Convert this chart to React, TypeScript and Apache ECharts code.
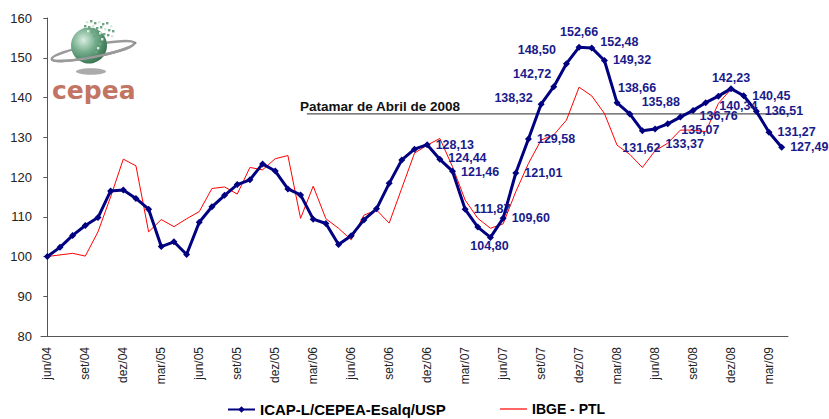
import React, { useEffect, useRef } from "react";
import * as echarts from "echarts";

const FONT = "'Liberation Sans', Arial, sans-serif";

const monthNames = ["jan", "fev", "mar", "abr", "mai", "jun", "jul", "ago", "set", "out", "nov", "dez"];
const categories: string[] = [];
for (let k = 0; k < 59; k++) {
  const m = (5 + k) % 12;
  const y = 4 + Math.floor((5 + k) / 12);
  categories.push(`${monthNames[m]}/${String(y).padStart(2, "0")}`);
}

const icapValues = [
  100.0, 102.3, 105.3, 107.8, 109.8, 116.5, 116.7, 114.6, 111.9, 102.5,
  103.7, 100.5, 108.6, 112.5, 115.4, 118.1, 119.3, 123.3, 121.5, 117.0,
  115.5, 109.4, 108.3, 103.0, 105.2, 109.2, 112.0, 118.4, 124.3, 127.0,
  128.13, 124.44, 121.46, 111.87, 107.4, 104.8, 109.6, 121.01, 129.58, 138.32,
  142.72, 148.5, 152.66, 152.48, 149.32, 138.66, 135.88, 131.62, 132.1, 133.37,
  135.07, 136.76, 138.7, 140.34, 142.23, 140.45, 136.51, 131.27, 127.49,
];

const ibgeValues: (number | null)[] = [
  100.0, 100.4, 100.8, 100.1, 106.2, 115.0, 124.5, 122.8, 106.2, 109.3,
  107.5, 109.5, 111.3, 117.1, 117.5, 115.7, 122.4, 121.8, 124.6, 125.4,
  109.6, 117.7, 109.5, 107.1, 104.2, 110.4, 111.7, 108.4, 117.2, 126.0,
  128.0, 129.7, 122.6, 114.2, 109.6, 107.1, 108.2, 116.3, 123.4, 129.3,
  130.6, 134.3, 142.6, 140.4, 136.0, 128.0, 125.7, 122.4, 126.6, 128.5,
  131.8, 131.8, 131.4, 138.5, 142.1, null, null, null, null,
];

const patamarValue = 135.88;
const patamarSpan = [20.5, 60.5];
const patamarText = "Patamar de Abril de 2008";

const yTicks = { min: 80, max: 160, interval: 10 };

// label placement for the labelled ICAP points: [position, dx, dy]
const labelPlacement: Record<number, [string, number, number]> = {
  30: ["right", 0, 0],
  31: ["right", 0, -1],
  32: ["right", 0, 1],
  33: ["right", 0, 0],
  35: ["bottom", -1, -6],
  36: ["right", 0, 0],
  37: ["right", 0, 0],
  38: ["right", 0, 0],
  39: ["left", 0, -6],
  40: ["left", 6, -13],
  41: ["left", -2, -14],
  42: ["top", 0, 0],
  43: ["right", 0, -6],
  44: ["right", 0, 0],
  45: ["top", 20, 0],
  46: ["top", 31, 3],
  47: ["bottom", -1, 2],
  49: ["bottom", 17, 5],
  50: ["bottom", 20, -2],
  51: ["right", -2, 6],
  53: ["bottom", 20, -5],
  54: ["top", 0, 4],
  55: ["right", 0, 0],
  56: ["right", 0, 0],
  57: ["right", 0, 0],
  58: ["right", 0, 0],
};

const logoDots: [number, number][] = [
  [86, 21], [90, 20], [94, 22], [98, 21], [102, 23], [106, 22], [110, 25],
  [84, 25], [88, 26], [92, 25], [96, 27], [100, 26], [104, 28], [108, 29], [112, 30],
  [87, 30], [91, 31], [95, 29], [99, 32], [103, 33], [107, 34], [111, 35],
  [93, 35], [97, 36], [101, 38], [95, 40], [99, 43], [97, 47], [95, 51],
];

export default function App() {
  const ref = useRef<HTMLDivElement>(null);
  useEffect(() => {
    document.body.style.margin = "0";
    if (!ref.current) return;
    const chart = echarts.init(ref.current, undefined, { renderer: "svg" });

    const icapData = icapValues.map((v, i) => {
      const p = labelPlacement[i];
      if (!p) return v;
      return { value: v, label: { show: true, position: p[0], offset: [p[1], p[2]] } };
    });

    const graphic: any[] = [
      {
        type: "ellipse",
        shape: { cx: 91, cy: 71.5, rx: 15, ry: 3.2 },
        style: { fill: "#8f8f8f", opacity: 0.75 },
        silent: true,
      },
      {
        type: "group",
        x: 93,
        y: 51,
        rotation: 0.19,
        silent: true,
        children: [
          {
            type: "ellipse",
            shape: { cx: 0, cy: 0, rx: 42, ry: 6 },
            style: { fill: "none", stroke: "#9a9a9a", lineWidth: 2.5 },
          },
        ],
      },
      {
        type: "circle",
        shape: { cx: 89, cy: 45.5, r: 18 },
        style: {
          fill: new echarts.graphic.RadialGradient(0.35, 0.35, 0.75, [
            { offset: 0, color: "#d9ede1" },
            { offset: 0.45, color: "#74ad8b" },
            { offset: 1, color: "#2c6a48" },
          ]),
        },
        silent: true,
      },
      {
        type: "group",
        x: 93,
        y: 51,
        rotation: 0.19,
        silent: true,
        children: [
          {
            type: "bezierCurve",
            shape: { x1: -42, y1: 0, x2: 42, y2: 0, cpx1: -42, cpy1: 8, cpx2: 42, cpy2: 8 },
            style: { fill: "none", stroke: "#9a9a9a", lineWidth: 2.5 },
          },
          { type: "circle", shape: { cx: 43, cy: 0, r: 1.3 }, style: { fill: "#888" } },
        ],
      },
      ...logoDots.map(([x, y], k) => ({
        type: "rect",
        shape: { x, y, width: 2.4, height: 2.4 },
        style: { fill: k % 3 === 0 ? "#d8eadf" : "#6fa585" },
        silent: true,
      })),
      {
        type: "text",
        x: 52,
        y: 90,
        silent: true,
        style: {
          text: "cepea",
          fontSize: 25,
          fontWeight: "bold",
          fontFamily: "'DejaVu Sans', sans-serif",
          fill: "#c27563",
          verticalAlign: "middle",
          align: "left",
        },
      },
    ];

    const legendText = { fontSize: 15, fontWeight: "bold", color: "#000", fontFamily: FONT };

    chart.setOption({
      animation: false,
      textStyle: { fontFamily: FONT },
      grid: { left: 41, right: 41, top: 18, bottom: 83, containLabel: false },
      legend: [
        {
          data: ["ICAP-L/CEPEA-Esalq/USP"],
          left: 227,
          top: 402,
          padding: 0,
          itemWidth: 27,
          itemHeight: 8,
          itemGap: 4,
          textStyle: legendText,
          selectedMode: false,
        },
        {
          data: [{ name: "IBGE - PTL", icon: "rect" }],
          left: 500,
          top: 402,
          padding: 0,
          itemWidth: 27,
          itemHeight: 1.2,
          textStyle: { ...legendText, fontSize: 14 },
          selectedMode: false,
        },
      ],
      xAxis: [
        {
          type: "category",
          data: categories,
          boundaryGap: true,
          axisLine: { lineStyle: { color: "#555", width: 1 } },
          axisTick: { interval: 2, length: 4, lineStyle: { color: "#555" } },
          axisLabel: { interval: 2, rotate: 90, fontSize: 12, color: "#222", margin: 11, fontFamily: FONT },
          splitLine: { show: false },
        },
        { type: "value", show: false, min: -0.5, max: 58.5 },
      ],
      yAxis: {
        type: "value",
        min: yTicks.min,
        max: yTicks.max,
        interval: yTicks.interval,
        axisLine: { show: true, lineStyle: { color: "#555", width: 1 } },
        axisTick: { show: true, length: 4, lineStyle: { color: "#555" } },
        axisLabel: { fontSize: 13, color: "#222", margin: 9, fontFamily: FONT },
        splitLine: { show: false },
      },
      series: [
        {
          name: "Patamar",
          type: "line",
          xAxisIndex: 1,
          yAxisIndex: 0,
          clip: false,
          silent: true,
          z: 1,
          symbol: "circle",
          symbolSize: 1,
          itemStyle: { color: "rgba(0,0,0,0)" },
          lineStyle: { color: "#555", width: 1.3 },
          data: [
            {
              value: [patamarSpan[0], patamarValue],
              label: {
                show: true,
                formatter: patamarText,
                position: "top",
                align: "left",
                offset: [-7, 5],
                fontSize: 13.5,
                fontWeight: "bold",
                color: "#111",
                fontFamily: FONT,
              },
            },
            [patamarSpan[1], patamarValue],
          ],
        },
        {
          name: "IBGE - PTL",
          type: "line",
          data: ibgeValues,
          symbol: "none",
          z: 2,
          lineStyle: { color: "#ff0000", width: 1 },
          itemStyle: { color: "#ff0000" },
        },
        {
          name: "ICAP-L/CEPEA-Esalq/USP",
          type: "line",
          data: icapData,
          symbol: "diamond",
          symbolSize: 7,
          z: 3,
          lineStyle: { color: "#000080", width: 3 },
          itemStyle: { color: "#000080" },
          label: {
            show: false,
            fontSize: 12.5,
            fontWeight: "bold",
            color: "#1a1a8c",
            fontFamily: FONT,
            formatter: (p: any) => Number(p.value).toFixed(2).replace(".", ","),
          },
        },
      ],
      graphic,
    });
    return () => chart.dispose();
  }, []);
  return <div ref={ref} style={{ width: 829, height: 419 }} />;
}
